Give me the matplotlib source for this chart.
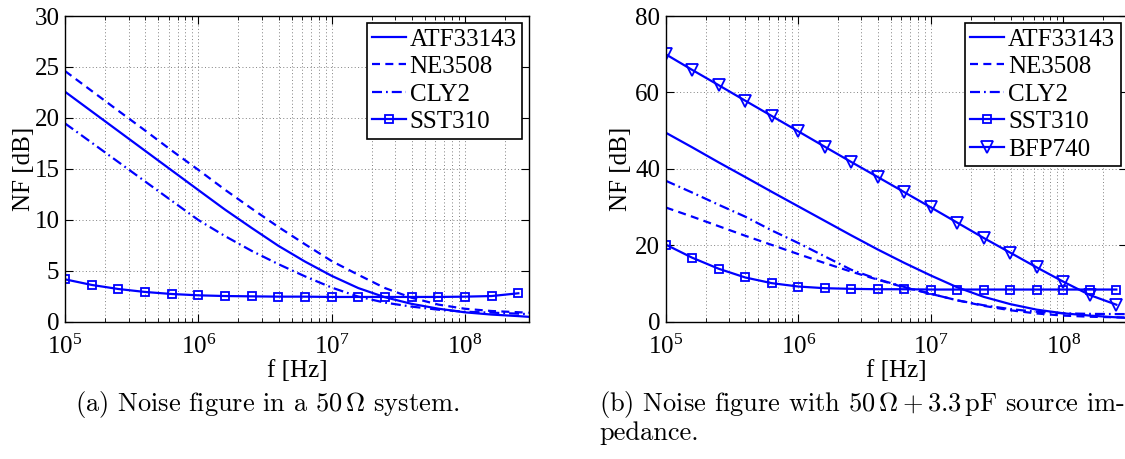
import matplotlib
matplotlib.use("Agg")
import matplotlib.pyplot as plt
from matplotlib.ticker import LogLocator, LogFormatterMathtext, NullFormatter, MultipleLocator

plt.rcParams['font.family'] = ['Liberation Serif', 'DejaVu Serif']
plt.rcParams['mathtext.fontset'] = 'stix'

# ---- data (frequency exponents, log10 Hz) ----
f_exp_line = [5.0, 5.2, 5.4, 5.6, 5.8, 6.0, 6.2, 6.4, 6.6, 6.8, 7.0, 7.2, 7.4, 7.6, 7.8, 8.0, 8.2, 8.4, 8.477]
f_exp_mark = [5.0, 5.2, 5.4, 5.6, 5.8, 6.0, 6.2, 6.4, 6.6, 6.8, 7.0, 7.2, 7.4, 7.6, 7.8, 8.0, 8.2, 8.4]

# (a) 50 Ohm system
atf_a = [22.57, 20.64, 18.71, 16.78, 14.85, 12.92, 11.0, 9.2, 7.45, 5.9, 4.5, 3.3, 2.4, 1.75, 1.28, 0.92, 0.7, 0.55, 0.48]
ne_a = [24.6, 22.65, 20.7, 18.77, 16.8, 14.9, 12.95, 11.1, 9.3, 7.6, 5.95, 4.6, 3.3, 2.35, 1.68, 1.27, 1.05, 0.93, 0.88]
cly_a = [19.46, 17.57, 15.67, 13.77, 11.87, 9.98, 8.4, 6.95, 5.65, 4.45, 3.35, 2.46, 1.87, 1.48, 1.18, 0.98, 0.89, 0.79, 0.75]
sst_a = [4.16, 3.61, 3.21, 2.92, 2.72, 2.59, 2.52, 2.49, 2.46, 2.46, 2.43, 2.43, 2.43, 2.43, 2.43, 2.46, 2.52, 2.79]

# (b) 50 Ohm + 3.3 pF source
atf_b = [49.48, 45.64, 41.7, 37.87, 34.0, 30.2, 26.4, 22.6, 18.9, 15.4, 12.1, 9.0, 6.5, 4.6, 3.15, 2.2, 1.6, 1.15, 1.0]
ne_b = [29.9, 27.5, 25.0, 22.5, 20.1, 17.7, 15.35, 13.1, 11.0, 9.0, 7.3, 5.6, 4.15, 3.0, 2.15, 1.6, 1.3, 1.15, 1.1]
cly_b = [36.9, 33.8, 30.6, 27.5, 23.9, 20.6, 17.1, 13.6, 11.1, 9.1, 7.3, 5.6, 4.3, 3.3, 2.6, 2.2, 2.05, 2.0, 2.0]
sst_b = [20.2, 16.75, 13.86, 11.58, 10.09, 9.21, 8.77, 8.6, 8.5, 8.5, 8.42, 8.42, 8.42, 8.42, 8.42, 8.42, 8.42, 8.42]
bfp_b = [70.0, 65.9, 61.9, 57.85, 53.84, 49.83, 45.8, 41.8, 37.87, 33.9, 29.93, 25.92, 21.9, 18.06, 14.2, 10.47, 6.98, 4.45]

labels_a = ['ATF33143', 'NE3508', 'CLY2', 'SST310']
labels_b = ['ATF33143', 'NE3508', 'CLY2', 'SST310', 'BFP740']

f_line = [10 ** e for e in f_exp_line]
f_mark = [10 ** e for e in f_exp_mark]

BLUE = (0, 0, 1)
LW = 1.6
FS = 18

fig = plt.figure(figsize=(11.25, 4.59), dpi=100)
ax1 = fig.add_axes([0.0578, 0.2991, 0.4121, 0.666])
ax2 = fig.add_axes([0.5917, 0.2991, 0.4097, 0.666])


def style(ax, ymax, ystep):
    ax.set_xscale('log')
    ax.set_xlim(1e5, 3e8)
    ax.set_ylim(0, ymax)
    ax.yaxis.set_major_locator(MultipleLocator(ystep))
    ax.xaxis.set_major_locator(LogLocator(base=10, numticks=10))
    ax.xaxis.set_minor_locator(LogLocator(base=10, subs=range(2, 10), numticks=20))
    ax.xaxis.set_major_formatter(LogFormatterMathtext())
    ax.xaxis.set_minor_formatter(NullFormatter())
    grid_kw = dict(color='0.5', linestyle=(0, (1, 2.5)), linewidth=0.7)
    ax.grid(True, which='major', axis='both', **grid_kw)
    ax.grid(True, which='minor', axis='x', **grid_kw)
    ax.set_axisbelow(True)
    ax.tick_params(which='both', direction='in', top=True, right=True, labelsize=FS)
    ax.tick_params(which='major', length=5.5, width=0.8)
    ax.tick_params(which='minor', length=3, width=0.6)
    ax.tick_params(axis='x', which='major', pad=9)
    ax.tick_params(axis='y', which='major', pad=4)
    for s in ax.spines.values():
        s.set_linewidth(1.0)
    ax.set_xlabel('f [Hz]', fontsize=FS, labelpad=0)
    ax.set_ylabel('NF [dB]', fontsize=FS)


dash = (0, (3.6, 2.4))
dashdot = (0, (4.5, 1.8, 0.8, 1.8))

ax1.plot(f_line, atf_a, color=BLUE, lw=LW, ls='-', label=labels_a[0])
ax1.plot(f_line, ne_a, color=BLUE, lw=LW, ls=dash, label=labels_a[1])
ax1.plot(f_line, cly_a, color=BLUE, lw=LW, ls=dashdot, label=labels_a[2])
ax1.plot(f_mark, sst_a, color=BLUE, lw=LW, ls='-', marker='s', ms=5.5,
         mfc='none', mec=BLUE, mew=1.3, label=labels_a[3])
style(ax1, 30, 5)

ax2.plot(f_line, atf_b, color=BLUE, lw=LW, ls='-', label=labels_b[0])
ax2.plot(f_line, ne_b, color=BLUE, lw=LW, ls=dash, label=labels_b[1])
ax2.plot(f_line, cly_b, color=BLUE, lw=LW, ls=dashdot, label=labels_b[2])
ax2.plot(f_mark, sst_b, color=BLUE, lw=LW, ls='-', marker='s', ms=5.5,
         mfc='none', mec=BLUE, mew=1.3, label=labels_b[3])
ax2.plot(f_mark, bfp_b, color=BLUE, lw=LW, ls='-', marker='v', ms=8,
         mfc='none', mec=BLUE, mew=1.3, label=labels_b[4])
style(ax2, 80, 20)

for ax, anchor in ((ax1, (0.986, 0.978)), (ax2, (0.987, 0.978))):
    leg = ax.legend(loc='upper right', bbox_to_anchor=anchor, borderaxespad=0,
                    fontsize=FS, frameon=True, fancybox=False, framealpha=1,
                    edgecolor='black', handlelength=1.35, handletextpad=0.15,
                    labelspacing=0.2, borderpad=0.22)
    leg.get_frame().set_linewidth(1.2)

ax1.yaxis.set_label_coords(-0.064, 0.5)
ax2.yaxis.set_label_coords(-0.072, 0.5)
ax1.xaxis.set_label_coords(0.5, -0.125)
ax2.xaxis.set_label_coords(0.5, -0.125)

cap_kw = dict(family='cmr10', fontsize=19, math_fontfamily='cm', va='center', ha='left')
fig.text(75 / 1125, 1 - 405 / 459, r'(a) Noise figure in a $50\,\Omega$ system.', **cap_kw)
fig.text(599 / 1125, 1 - 405 / 459, r'(b) Noise figure with $50\,\Omega + 3.3\,\mathrm{pF}$ source im-', **cap_kw)
fig.text(599 / 1125, 1 - 433 / 459, 'pedance.', **cap_kw)

fig.savefig('out.png', dpi=100)
